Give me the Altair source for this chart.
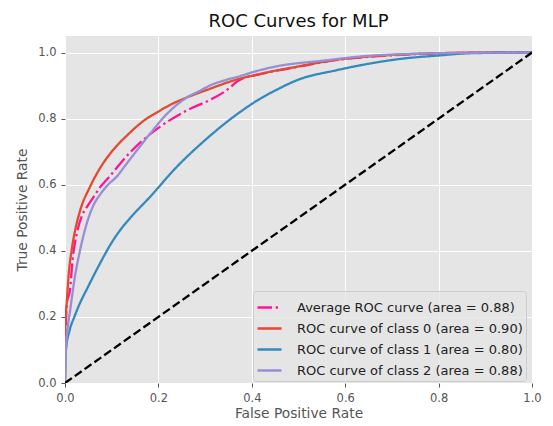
import altair as alt
import pandas as pd

# ---- data ----
labels = [
    "Average ROC curve (area = 0.88)",
    "ROC curve of class 0 (area = 0.90)",
    "ROC curve of class 1 (area = 0.80)",
    "ROC curve of class 2 (area = 0.88)",
]
colors = ["#FF1493", "#E24A33", "#348ABD", "#988ED5"]

fpr_avg = [0, 0.004, 0.011, 0.016, 0.025, 0.036, 0.048, 0.06, 0.075, 0.095, 0.131, 0.167,
           0.203, 0.261, 0.311, 0.345, 0.372, 0.42, 0.50, 0.58, 0.65, 0.72, 0.80, 0.90, 1.0]
tpr_avg = [0.10, 0.24, 0.285, 0.37, 0.45, 0.505, 0.535, 0.56, 0.592, 0.624, 0.685, 0.735,
           0.775, 0.825, 0.857, 0.885, 0.915, 0.935, 0.957, 0.977, 0.987, 0.993, 0.997, 1.0, 1.0]

fpr_c0 = [0, 0, 0.004, 0.008, 0.014, 0.02, 0.032, 0.054, 0.075, 0.103, 0.132, 0.168, 0.203,
          0.23, 0.261, 0.31, 0.36, 0.42, 0.50, 0.58, 0.65, 0.72, 0.80, 0.90, 1.0]
tpr_c0 = [0, 0.15, 0.25, 0.33, 0.40, 0.45, 0.52, 0.595, 0.65, 0.705, 0.748, 0.793, 0.824,
          0.845, 0.864, 0.89, 0.915, 0.936, 0.958, 0.978, 0.988, 0.994, 0.998, 1.0, 1.0]

fpr_c1 = [0, 0.002, 0.01, 0.02, 0.03, 0.05, 0.075, 0.10, 0.12, 0.14, 0.18, 0.24, 0.30, 0.37,
          0.42, 0.45, 0.50, 0.58, 0.65, 0.72, 0.80, 0.87, 1.0]
tpr_c1 = [0, 0.10, 0.16, 0.20, 0.235, 0.293, 0.362, 0.425, 0.466, 0.50, 0.56, 0.655, 0.735,
          0.815, 0.862, 0.885, 0.918, 0.946, 0.966, 0.981, 0.991, 0.998, 1.0]

fpr_c2 = [0, 0.002, 0.006, 0.011, 0.021, 0.032, 0.046, 0.06, 0.075, 0.09, 0.111, 0.13, 0.154,
          0.182, 0.218, 0.261, 0.29, 0.31, 0.34, 0.368, 0.418, 0.46, 0.55, 0.65, 0.75, 0.85, 1.0]
tpr_c2 = [0, 0.10, 0.17, 0.22, 0.32, 0.40, 0.48, 0.535, 0.57, 0.597, 0.625, 0.66, 0.704,
          0.754, 0.814, 0.864, 0.885, 0.90, 0.915, 0.926, 0.947, 0.96, 0.975, 0.99, 0.996,
          0.999, 1.0]

diag_x = [0.0, 1.0]
diag_y = [0.0, 1.0]

tick_values = [0.0, 0.2, 0.4, 0.6, 0.8, 1.0]

# ---- build table ----
rows = []
for lab, fx, ty in zip(labels,
                       [fpr_avg, fpr_c0, fpr_c1, fpr_c2],
                       [tpr_avg, tpr_c0, tpr_c1, tpr_c2]):
    for i, (a, b) in enumerate(zip(fx, ty)):
        rows.append({"series": lab, "fpr": a, "tpr": b, "order": i})
df = pd.DataFrame(rows)
diag = pd.DataFrame({"fpr": diag_x, "tpr": diag_y})

FONT = "DejaVu Sans"
GRAY = "#555555"

xscale = alt.Scale(domain=[0, 1], nice=False, zero=False)
yscale = alt.Scale(domain=[0, 1.05], nice=False, zero=False)

xaxis = alt.Axis(title="False Positive Rate", values=tick_values, format=".1f",
                 labelFlush=False)
yaxis = alt.Axis(title="True Positive Rate", values=tick_values, format=".1f",
                 labelFlush=False)

curves = alt.Chart(df).mark_line(strokeWidth=2.3, clip=True, interpolate="monotone").encode(
    x=alt.X("fpr:Q", scale=xscale, axis=xaxis),
    y=alt.Y("tpr:Q", scale=yscale, axis=yaxis),
    order="order:Q",
    color=alt.Color(
        "series:N",
        scale=alt.Scale(domain=labels, range=colors),
        legend=alt.Legend(
            title=None,
            orient="none",
            legendX=188,
            legendY=255,
            symbolType="stroke",
            symbolSize=576,
            symbolStrokeWidth=2.3,
            labelFontSize=13,
            labelFont=FONT,
            labelColor="#222222",
            labelOffset=14,
            fillColor="rgba(229,229,229,0.8)",
            strokeColor="#cccccc",
            padding=3,
            cornerRadius=3,
            rowPadding=-5,
            labelLimit=400,
        ),
    ),
    strokeDash=alt.StrokeDash(
        "series:N",
        scale=alt.Scale(domain=labels,
                        range=[[14.6, 3.6, 2.3, 3.6], [1, 0], [1, 0], [1, 0]]),
        legend=None,
    ),
)

diag_line = alt.Chart(diag).mark_line(
    color="black", strokeWidth=2.3, strokeDash=[8.4, 3.6], clip=True
).encode(x=alt.X("fpr:Q", scale=xscale), y=alt.Y("tpr:Q", scale=yscale))

chart = alt.layer(curves, diag_line).properties(
    width=467,
    height=347,
    autosize=alt.AutoSizeParams(type="none"),
    padding={"left": 65, "top": 36, "right": 21, "bottom": 43},
    title=alt.TitleParams("ROC Curves for MLP", fontSize=18, font=FONT,
                          fontWeight="normal", color="#111111", offset=5,
                          anchor="middle"),
).configure_view(
    fill="#E5E5E5", stroke=None
).configure_axis(
    domain=False,
    grid=True,
    gridColor="white",
    gridWidth=1,
    ticks=True,
    tickColor=GRAY,
    tickSize=4,
    tickWidth=1,
    labelFont=FONT,
    labelFontSize=11.5,
    labelColor=GRAY,
    labelPadding=5,
    titleFont=FONT,
    titleFontSize=13.8,
    titleFontWeight="normal",
    titleColor=GRAY,
).configure_axisX(titlePadding=3).configure_axisY(titlePadding=8)

chart.save("out.html", embed_options={"renderer": "svg", "actions": False})
